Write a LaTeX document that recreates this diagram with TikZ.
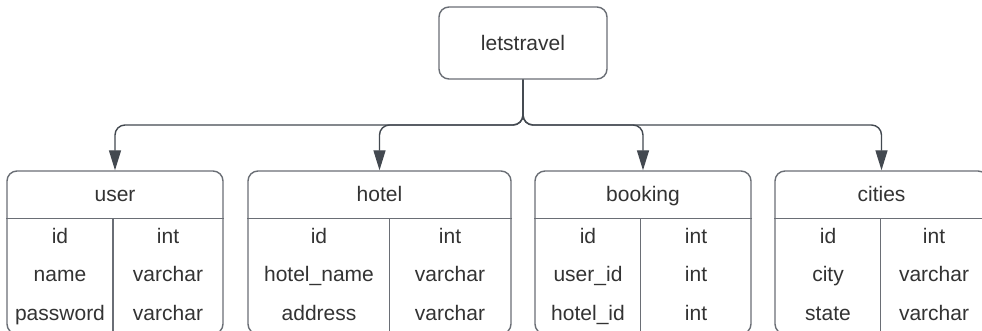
\documentclass[tikz,border=0pt]{standalone}
\usepackage{fontspec}
\setmainfont{Liberation Sans}
\usetikzlibrary{arrows.meta,calc}
\definecolor{boxline}{HTML}{6A6E75}
\definecolor{connline}{HTML}{434950}
\definecolor{txt}{HTML}{333333}
\tikzset{
  rootbox/.style={draw=boxline, line width=1.4pt, rounded corners=10pt, minimum width=168pt, minimum height=72pt, inner sep=0pt, text=txt, font=\fontsize{21}{25}\selectfont},
  tablebox/.style={draw=boxline, line width=1.4pt, rounded corners=10pt, minimum height=163pt, inner sep=0pt},
  divider/.style={draw=boxline, line width=1.2pt},
  lbl/.style={text=txt, font=\fontsize{21}{25}\selectfont, inner sep=0pt, anchor=base},
  conn/.style={draw=connline, line width=1.4pt, rounded corners=10pt, -{Triangle[length=20pt,width=12pt]}},
}
\begin{document}
\begin{tikzpicture}[x=1pt,y=-1pt]
\useasboundingbox (0,0) rectangle (982,331);
\clip (0,0) rectangle (982,331);
\fill[white] (0,0) rectangle (982,331);

\node[rootbox] (root) at (523,43) {letstravel};
\coordinate (bus) at (523,125);

% tables
\node[tablebox, minimum width=216pt] (user) at (115,252.5) {};
\node[tablebox, minimum width=263pt] (hotel) at (379.5,252.5) {};
\node[tablebox, minimum width=216pt] (booking) at (643,252.5) {};
\node[tablebox, minimum width=213pt] (cities) at (881.5,252.5) {};

% header dividers
\foreach \t in {user,hotel,booking,cities}{
  \draw[divider] ($(\t.north west)+(0,48)$) -- ($(\t.north east)+(0,48)$);
}
% column dividers
\draw[divider] (113,219) -- (113,340);
\draw[divider] (389.5,219) -- (389.5,340);
\draw[divider] (640.5,219) -- (640.5,340);
\draw[divider] (880.5,219) -- (880.5,340);

% titles
\node[lbl] (tuser) at (115,201) {user};
\node[lbl] (thotel) at (379.5,201) {hotel};
\node[lbl] (tbooking) at (643,201) {booking};
\node[lbl] (tcities) at (881.5,201) {cities};

% user rows
\node[lbl] (u1a) at (60,243) {id};
\node[lbl] (u1b) at (168,243) {int};
\node[lbl] (u2a) at (60,281.5) {name};
\node[lbl] (u2b) at (168,281.5) {varchar};
\node[lbl] (u3a) at (60,320) {password};
\node[lbl] (u3b) at (168,320) {varchar};
% hotel rows
\node[lbl] (h1a) at (319,243) {id};
\node[lbl] (h1b) at (450,243) {int};
\node[lbl] (h2a) at (319,281.5) {hotel\_name};
\node[lbl] (h2b) at (450,281.5) {varchar};
\node[lbl] (h3a) at (319,320) {address};
\node[lbl] (h3b) at (450,320) {varchar};
% booking rows
\node[lbl] (b1a) at (588,243) {id};
\node[lbl] (b1b) at (696,243) {int};
\node[lbl] (b2a) at (588,281.5) {user\_id};
\node[lbl] (b2b) at (696,281.5) {int};
\node[lbl] (b3a) at (588,320) {hotel\_id};
\node[lbl] (b3b) at (696,320) {int};
% cities rows
\node[lbl] (c1a) at (828,243) {id};
\node[lbl] (c1b) at (934,243) {int};
\node[lbl] (c2a) at (828,281.5) {city};
\node[lbl] (c2b) at (934,281.5) {varchar};
\node[lbl] (c3a) at (828,320) {state};
\node[lbl] (c3b) at (934,320) {varchar};

% connectors
\foreach \t in {user,hotel,booking,cities}{
  \draw[conn] (root.south) -- (bus) -| (\t.north);
}
\end{tikzpicture}
\end{document}
